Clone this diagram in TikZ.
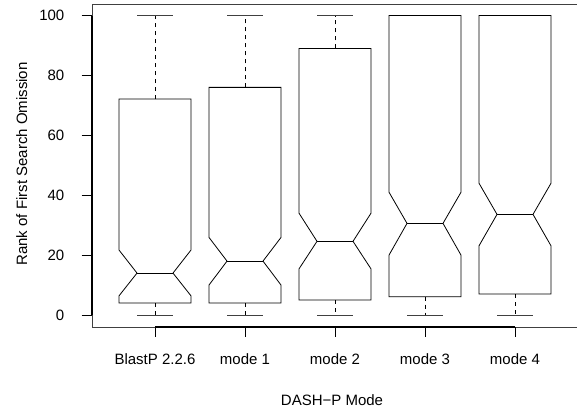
\documentclass[tikz,border=0pt]{standalone}
\usepackage{fontspec}
\setmainfont{Liberation Sans}
\usetikzlibrary{positioning}

\begin{document}
\begin{tikzpicture}[x=1pt,y=2.995pt,
  lab/.style={font=\fontsize{15}{18}\selectfont, inner sep=0pt},
  boxline/.style={line width=0.8pt, black},
  whisk/.style={line width=0.8pt, dash pattern=on 4pt off 4pt},
  capline/.style={line width=0.9pt, black!75}]
\useasboundingbox (0,-32.39) rectangle (577,105.18);
\def\bw{36}
\def\nw{18}
% frame
\draw[black!75, line width=0.8pt] (580,103.84) -- (92,103.84) -- (92,-4) -- (580,-4);
% axes
\draw[line width=1.6pt] (92,0) -- (92,100);
\draw[line width=1.6pt] (155,-4) -- (515,-4);
\foreach \v in {0,20,...,100}{
  \draw[line width=0.8pt] (81.7,\v) -- (92,\v);
  \path (64.5,\v) node[lab, anchor=east] (ytick\v) {\v};
}
% boxes
\foreach \x/\lo/\nl/\med/\nh/\hi/\name [count=\i] in
  {155/4.0/6.4/14.0/21.7/72.1/BlastP 2.2.6,
   245/4.0/10.0/18.0/25.9/76.0/mode 1,
   335/5.0/15.4/24.6/34.0/89.0/mode 2,
   425/6.1/20.0/30.6/41.0/100/mode 3,
   515/7.0/23.1/33.6/44.0/100/mode 4}{
  \draw[whisk] (\x,\hi) -- (\x,100);
  \draw[whisk] (\x,\lo) -- (\x,0);
  \draw[capline] (\x-\nw,100) -- (\x+\nw,100);
  \draw[capline] (\x-\nw,0) -- (\x+\nw,0);
  \draw[boxline] (\x-\bw,\lo) -- (\x-\bw,\nl) -- (\x-\nw,\med) -- (\x-\bw,\nh)
    -- (\x-\bw,\hi) -- (\x+\bw,\hi) -- (\x+\bw,\nh) -- (\x+\nw,\med)
    -- (\x+\bw,\nl) -- (\x+\bw,\lo) -- cycle;
  \draw[boxline] (\x-\nw,\med) -- (\x+\nw,\med);
  \draw[line width=0.8pt] (\x,-4) -- (\x,-7.35);
  \path (\x,-14.7) node[lab] (xtick\i) {\name};
}
% axis titles
\path (21.7,50.4) node[lab, rotate=90] (ylab) {Rank of First Search Omission};
\path (332,-28.4) node[lab] (xlab) {DASH−P Mode};
\end{tikzpicture}
\end{document}
